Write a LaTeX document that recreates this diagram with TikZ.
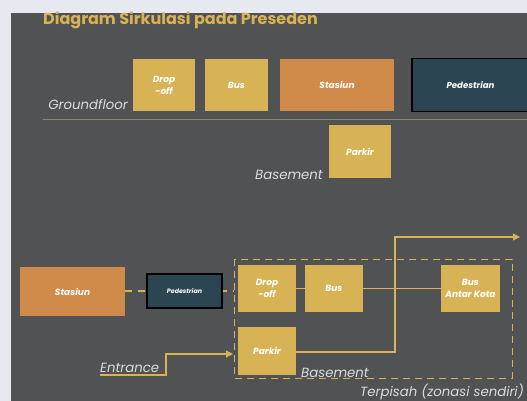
\documentclass[tikz,border=0pt]{standalone}
\usepackage{fontspec}
\setmainfont{Poppins}
\usetikzlibrary{arrows.meta}
\definecolor{paper}{HTML}{E6E9EF}
\definecolor{panel}{HTML}{515254}
\definecolor{gold}{HTML}{D8B356}
\definecolor{rust}{HTML}{D08A4A}
\definecolor{teal}{HTML}{2B4652}
\definecolor{soft}{HTML}{DCDCDC}
\definecolor{rule}{HTML}{8C8772}
\tikzset{
  x=1pt, y=-1pt,
  box/.style={minimum width=#1, inner sep=0pt, text=white,
    font=\bfseries\itshape\fontsize{9}{12}\selectfont, align=center},
  goldbox/.style={box=#1, fill=gold},
  rustbox/.style={box=#1, fill=rust},
  pedbox/.style={box=#1, fill=teal, draw=black, line width=1.3pt},
  lbl/.style={text=soft, font=\itshape\fontsize{13.3}{14}\selectfont, inner sep=0pt},
  flow/.style={draw=gold, line width=1.1pt},
  tip/.style={-{Triangle[length=7pt,width=7pt]}}
}
\begin{document}
\begin{tikzpicture}
  \useasboundingbox (0,0) rectangle (527,401);
  \fill[paper] (0,0) rectangle (527,401);
  \fill[panel] (11,13) rectangle (527,401);

  % title
  \node[anchor=base west, inner sep=0pt, text=gold,
        font=\bfseries\fontsize{16}{17}\selectfont] (title) at (43,25)
        {Diagram Sirkulasi pada Preseden};

  % ground floor row
  \node[goldbox=62pt, minimum height=52pt] (gdrop) at (164,85) {Drop\\-off};
  \node[goldbox=63pt, minimum height=52pt] (gbus) at (236.5,85) {Bus};
  \node[rustbox=114pt, minimum height=52pt] (gsta) at (337,85) {Stasiun};
  \node[pedbox=117pt, minimum height=53pt, font=\bfseries\itshape\fontsize{8.6}{9}\selectfont]
        (gped) at (470.5,85) {Pedestrian};
  \node[lbl, anchor=base east] (gfl) at (128,110) {Groundfloor};
  \coordinate (ruleL) at (43,120);
  \coordinate (ruleR) at (527,120);
  \draw[rule, line width=1pt] (ruleL) -- (ruleR);

  % basement (upper)
  \node[goldbox=62pt, minimum height=53pt] (gpark) at (360,151.5) {Parkir};
  \node[lbl, anchor=base east] (gbase) at (323,179) {Basement};

  % circulation diagram
  \draw[gold, dashed, dash pattern=on 7pt off 5pt, line width=1pt]
        (234,259) rectangle (512,378);
  \coordinate (zoneW) at (234,291);

  \node[rustbox=105pt, minimum height=49pt] (bsta) at (72.5,291.5) {Stasiun};
  \node[pedbox=75pt, minimum height=34pt, font=\bfseries\itshape\fontsize{6.3}{7}\selectfont]
        (bped) at (184.5,291) {Pedestrian};
  \node[goldbox=58pt, minimum height=47pt] (bdrop) at (267,288.5) {Drop\\-off};
  \node[goldbox=58pt, minimum height=47pt] (bbus) at (334,288.5) {Bus};
  \node[goldbox=59pt, minimum height=47pt] (bak) at (470.5,288.5) {Bus\\Antar Kota};
  \node[goldbox=58pt, minimum height=48pt] (bpark) at (267,351) {Parkir};

  \draw[gold, dashed, dash pattern=on 7pt off 6pt, line width=1.1pt]
        (bsta.east |- 0,291) -- (bped.west |- 0,291);
  \draw[gold, dashed, dash pattern=on 4pt off 6pt, line width=1.1pt]
        (bped.east) -- (zoneW);
  \draw[flow] (bdrop.east) -- (bbus.west);
  \draw[flow] (bbus.east) -- (bak.west);

  \coordinate (upturn) at (395,352);
  \coordinate (exitR) at (520,237);
  \draw[flow, tip] (bpark.east |- upturn) -- (upturn) |- (exitR);

  \node[lbl, anchor=base west] (ent) at (100,372) {Entrance};
  \coordinate (entL) at (100,375);
  \coordinate (entK) at (166,354);
  \coordinate (entT) at (233,354);
  \draw[flow, tip] (entL) -| (entK) -- (entT);

  \node[lbl, anchor=base west] (bbase) at (301,377) {Basement};
  \node[lbl, anchor=base east] (sep) at (524,396) {Terpisah (zonasi sendiri)};
\end{tikzpicture}
\end{document}
